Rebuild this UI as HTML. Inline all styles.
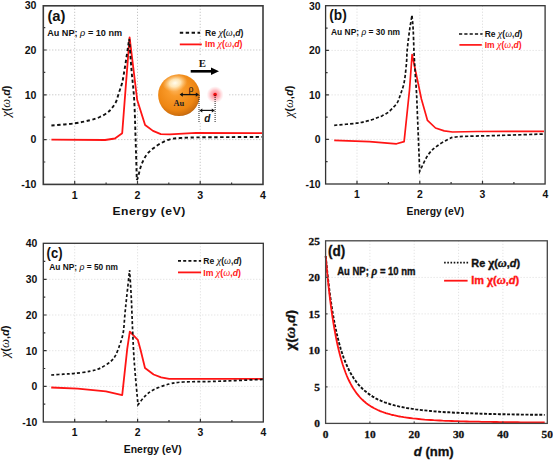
<!DOCTYPE html><html><head><meta charset="utf-8"><style>html,body{margin:0;padding:0;background:#fff;width:553px;height:460px;overflow:hidden}svg{display:block}</style></head><body>
<svg width="553" height="460" viewBox="0 0 553 460">
<defs><radialGradient id="gold" cx="0.45" cy="0.42" r="0.62" fx="0.4" fy="0.3"><stop offset="0" stop-color="#ffc070"/><stop offset="0.3" stop-color="#f99a2a"/><stop offset="0.75" stop-color="#ee8612"/><stop offset="0.92" stop-color="#d0700e"/><stop offset="1" stop-color="#a85a12"/></radialGradient><radialGradient id="hl" cx="0.5" cy="0.5" r="0.5"><stop offset="0" stop-color="#fffdf0" stop-opacity="1"/><stop offset="0.45" stop-color="#fff0c8" stop-opacity="0.85"/><stop offset="1" stop-color="#ffd090" stop-opacity="0"/></radialGradient><radialGradient id="glow"><stop offset="0" stop-color="#ff6070" stop-opacity="0.9"/><stop offset="0.55" stop-color="#ffa0a8" stop-opacity="0.65"/><stop offset="0.85" stop-color="#ffc8cc" stop-opacity="0.3"/><stop offset="1" stop-color="#ffe0e4" stop-opacity="0"/></radialGradient></defs>
<rect width="553" height="460" fill="#fff"/>
<line x1="74.7" y1="5.8" x2="74.7" y2="184.4" stroke="#b8b8b8" stroke-width="1" stroke-dasharray="1,2"/>
<line x1="137.5" y1="5.8" x2="137.5" y2="184.4" stroke="#b8b8b8" stroke-width="1" stroke-dasharray="1,2"/>
<line x1="200.2" y1="5.8" x2="200.2" y2="184.4" stroke="#b8b8b8" stroke-width="1" stroke-dasharray="1,2"/>
<line x1="43.3" y1="50.0" x2="263.0" y2="50.0" stroke="#b8b8b8" stroke-width="1" stroke-dasharray="1,2"/>
<line x1="43.3" y1="94.8" x2="263.0" y2="94.8" stroke="#b8b8b8" stroke-width="1" stroke-dasharray="1,2"/>
<line x1="43.3" y1="139.6" x2="263.0" y2="139.6" stroke="#b8b8b8" stroke-width="1" stroke-dasharray="1,2"/>
<rect x="153" y="55" width="75" height="68" fill="#fff"/>
<polyline points="51.4,139.7 105.1,140.0 114.9,138.5 122.2,133.2 125.5,90.0 129.6,37.3 137.2,100.0 145.1,125.0 153.0,130.9 160.8,134.1 169.9,134.4 196.0,132.8 262.0,133.1" fill="none" stroke="#ff1414" stroke-width="1.8" stroke-linejoin="round"/>
<path d="M51.40 125.50C55.20 125.15 67.77 124.28 74.20 123.40C80.63 122.52 85.73 121.27 90.00 120.20C94.27 119.13 96.90 118.27 99.80 117.00C102.70 115.73 105.42 114.05 107.40 112.60C109.38 111.15 110.25 110.12 111.70 108.30C113.15 106.48 114.92 104.25 116.10 101.70C117.28 99.15 117.82 96.07 118.80 93.00C119.78 89.93 121.05 87.13 122.00 83.30C122.95 79.47 123.30 77.38 124.50 70.00C125.70 62.62 128.42 44.17 129.20 39.00C129.58 44.17 130.67 59.83 131.50 70.00C132.33 80.17 133.52 88.50 134.20 100.00C134.88 111.50 135.17 125.67 135.60 139.00C136.03 152.33 136.60 173.17 136.80 180.00C137.00 179.53 137.27 179.63 138.00 177.20C138.73 174.77 139.80 169.10 141.20 165.40C142.60 161.70 144.43 157.82 146.40 155.00C148.37 152.18 150.60 150.45 153.00 148.50C155.40 146.55 157.98 144.83 160.80 143.30C163.62 141.77 166.65 140.18 169.90 139.30C173.15 138.42 175.95 138.32 180.30 138.00C184.65 137.68 187.72 137.55 196.00 137.40C204.28 137.25 219.00 137.18 230.00 137.10C241.00 137.02 256.67 136.93 262.00 136.90" fill="none" stroke="#111" stroke-width="1.9" stroke-dasharray="3.4,2.5"/>
<rect x="43.3" y="5.8" width="219.7" height="178.6" fill="none" stroke="#3a3a3a" stroke-width="1.60"/>
<path d="M74.7 184.4V181.1M137.5 184.4V181.1M200.2 184.4V181.1M106.1 184.4V182.4M168.8 184.4V182.4M231.6 184.4V182.4M43.3 50.0H46.6M43.3 94.8H46.6M43.3 139.6H46.6M43.3 27.6H45.3M43.3 72.4H45.3M43.3 117.2H45.3M43.3 162.0H45.3" stroke="#3a3a3a" stroke-width="1.2" fill="none"/>
<text x="36.5" y="9.0" font-size="10.60" font-weight="bold" font-style="normal" fill="#111" font-family='"Liberation Sans", sans-serif' text-anchor="end" >30</text>
<text x="36.5" y="53.8" font-size="10.60" font-weight="bold" font-style="normal" fill="#111" font-family='"Liberation Sans", sans-serif' text-anchor="end" >20</text>
<text x="36.5" y="98.6" font-size="10.60" font-weight="bold" font-style="normal" fill="#111" font-family='"Liberation Sans", sans-serif' text-anchor="end" >10</text>
<text x="36.5" y="143.4" font-size="10.60" font-weight="bold" font-style="normal" fill="#111" font-family='"Liberation Sans", sans-serif' text-anchor="end" >0</text>
<text x="36.5" y="188.2" font-size="10.60" font-weight="bold" font-style="normal" fill="#111" font-family='"Liberation Sans", sans-serif' text-anchor="end" >-10</text>
<text x="74.7" y="198.7" font-size="10.60" font-weight="bold" font-style="normal" fill="#111" font-family='"Liberation Sans", sans-serif' text-anchor="middle" >1</text>
<text x="137.5" y="198.7" font-size="10.60" font-weight="bold" font-style="normal" fill="#111" font-family='"Liberation Sans", sans-serif' text-anchor="middle" >2</text>
<text x="200.2" y="198.7" font-size="10.60" font-weight="bold" font-style="normal" fill="#111" font-family='"Liberation Sans", sans-serif' text-anchor="middle" >3</text>
<text x="263.0" y="198.7" font-size="10.60" font-weight="bold" font-style="normal" fill="#111" font-family='"Liberation Sans", sans-serif' text-anchor="middle" >4</text>
<text x="0" y="0" transform="translate(112.4,215.1) scale(1.1,1)" font-size="11" font-weight="bold" fill="#111" font-family='"Liberation Sans", sans-serif' textLength="66.3" lengthAdjust="spacing">Energy (eV)</text>
<text x="47.4" y="21.4" font-size="14.20" font-weight="bold" font-style="normal" fill="#111" font-family='"Liberation Sans", sans-serif' text-anchor="start" textLength="18.1" lengthAdjust="spacingAndGlyphs" >(a)</text>
<text x="47.2" y="36.3" font-size="9.10" font-weight="bold" font-style="normal" fill="#111" font-family='"Liberation Sans", sans-serif' text-anchor="start" textLength="74.9" lengthAdjust="spacingAndGlyphs" >Au NP; <tspan font-family='"Liberation Serif", serif' font-style="italic" font-weight="normal" font-size="11">ρ</tspan> = 10 nm</text>
<line x1="179.8" y1="32.7" x2="200.1" y2="32.7" stroke="#111" stroke-width="1.9" stroke-dasharray="3.4,2.5"/>
<text  x="205.0" y="36.1" font-size="8.60" fill="#111" font-family='"Liberation Sans", sans-serif' font-weight="bold" textLength="38.3" lengthAdjust="spacingAndGlyphs">Re <tspan font-family='"Liberation Serif", serif' font-style="italic" font-weight="normal" font-size="10.32">χ</tspan>(<tspan font-family='"Liberation Serif", serif' font-style="italic" font-weight="normal" font-size="9.89">ω</tspan>,<tspan font-style="italic">d</tspan>)</text>
<line x1="179.8" y1="44.4" x2="201.8" y2="44.4" stroke="#ff1414" stroke-width="1.8"/>
<text  x="205.0" y="47.4" font-size="8.60" fill="#ff1414" font-family='"Liberation Sans", sans-serif' font-weight="bold" textLength="37.5" lengthAdjust="spacingAndGlyphs">Im <tspan font-family='"Liberation Serif", serif' font-style="italic" font-weight="normal" font-size="10.32">χ</tspan>(<tspan font-family='"Liberation Serif", serif' font-style="italic" font-weight="normal" font-size="9.89">ω</tspan>,<tspan font-style="italic">d</tspan>)</text>
<text  x="0" y="0" transform="translate(9.5,101.3) rotate(-90)" text-anchor="middle" font-size="11.20" fill="#111" font-family='"Liberation Sans", sans-serif' font-weight="bold" textLength="31.4" lengthAdjust="spacingAndGlyphs"><tspan font-family='"Liberation Serif", serif' font-style="italic" font-weight="normal" font-size="13.44">χ</tspan>(<tspan font-family='"Liberation Serif", serif' font-style="italic" font-weight="normal" font-size="12.88">ω</tspan>,<tspan font-style="italic">d</tspan>)</text>
<circle cx="179" cy="95.1" r="20.9" fill="url(#gold)"/><ellipse cx="175" cy="83" rx="12.5" ry="8.5" transform="rotate(-12 175 83)" fill="url(#hl)"/>
<text x="198.8" y="67.1" font-size="10.8" font-weight="bold" font-family='"Liberation Serif", serif' fill="#111">E</text>
<path d="M190.7 71.3H212.5" stroke="#000" stroke-width="2.6"/><path d="M211 67.6L219 71.3L211 75Z" fill="#000"/>
<path d="M181.5 94.6H196" stroke="#111" stroke-width="1.3"/><path d="M179.6 94.6l3.2-2.2v4.4z M199 94.6l-3.2-2.2v4.4z" fill="#111"/>
<text x="188.6" y="91.6" font-size="10" font-family='"Liberation Serif", serif' fill="#111">ρ</text>
<text x="173.4" y="105.8" font-size="8.4" font-weight="bold" font-family='"Liberation Serif", serif' fill="#222" textLength="10.8" lengthAdjust="spacingAndGlyphs">Au</text>
<circle cx="215.1" cy="94.7" r="8.6" fill="url(#glow)"/><circle cx="215.1" cy="94.6" r="1.8" fill="#f01010"/>
<path d="M199 95V123M215.1 95V123" stroke="#222" stroke-width="1" stroke-dasharray="1,1"/>
<path d="M201.5 110.4H212.6" stroke="#111" stroke-width="1.2"/><path d="M199.3 110.4l3-2v4z M214.8 110.4l-3-2v4z" fill="#111"/>
<text x="204.3" y="121.6" font-size="10" font-weight="bold" font-style="italic" font-family='"Liberation Sans", sans-serif' fill="#111">d</text>
<line x1="357.0" y1="5.7" x2="357.0" y2="184.0" stroke="#d8d8d8" stroke-width="1" stroke-dasharray="1,2"/>
<line x1="419.8" y1="5.7" x2="419.8" y2="184.0" stroke="#d8d8d8" stroke-width="1" stroke-dasharray="1,2"/>
<line x1="482.5" y1="5.7" x2="482.5" y2="184.0" stroke="#d8d8d8" stroke-width="1" stroke-dasharray="1,2"/>
<line x1="325.6" y1="50.4" x2="545.1" y2="50.4" stroke="#d8d8d8" stroke-width="1" stroke-dasharray="1,2"/>
<line x1="325.6" y1="94.9" x2="545.1" y2="94.9" stroke="#d8d8d8" stroke-width="1" stroke-dasharray="1,2"/>
<line x1="325.6" y1="139.4" x2="545.1" y2="139.4" stroke="#d8d8d8" stroke-width="1" stroke-dasharray="1,2"/>
<polyline points="334.2,140.3 369.4,141.6 396.5,143.8 404.1,141.6 409.5,90.0 412.1,54.5 421.4,99.0 427.5,120.4 435.5,128.0 444.2,130.9 452.5,132.0 477.2,131.5 544.0,131.3" fill="none" stroke="#ff1414" stroke-width="1.7" stroke-linejoin="round"/>
<path d="M334.20 125.30C337.90 124.95 351.12 123.87 356.40 123.20C361.68 122.53 363.35 121.87 365.90 121.30C368.45 120.73 369.83 120.38 371.70 119.80C373.57 119.22 375.38 118.45 377.10 117.80C378.82 117.15 380.28 116.72 382.00 115.90C383.72 115.08 385.68 114.13 387.40 112.90C389.12 111.67 390.65 110.22 392.30 108.50C393.95 106.78 396.07 104.55 397.30 102.60C398.53 100.65 398.97 98.75 399.70 96.80C400.43 94.85 401.05 92.87 401.70 90.90C402.35 88.93 403.03 87.43 403.60 85.00C404.17 82.57 404.60 80.22 405.10 76.30C405.60 72.38 406.25 65.88 406.60 61.50C406.95 57.12 406.70 55.25 407.20 50.00C407.70 44.75 408.80 35.78 409.60 30.00C410.40 24.22 411.60 17.75 412.00 15.30C412.20 17.75 412.88 24.32 413.20 30.00C413.52 35.68 413.68 44.15 413.90 49.40C414.12 54.65 414.25 57.02 414.50 61.50C414.75 65.98 415.07 71.12 415.40 76.30C415.73 81.48 416.22 87.53 416.50 92.60C416.78 97.67 416.57 93.58 417.10 106.70C417.63 119.82 419.27 160.53 419.70 171.30C421.08 168.58 425.18 159.15 428.00 155.00C430.82 150.85 433.20 149.03 436.60 146.40C440.00 143.77 444.72 140.82 448.40 139.20C452.08 137.58 450.45 137.32 458.70 136.70C466.95 136.08 483.68 135.95 497.90 135.50C512.12 135.05 536.32 134.25 544.00 134.00" fill="none" stroke="#111" stroke-width="1.7" stroke-dasharray="3.2,2.1"/>
<rect x="325.6" y="5.7" width="219.5" height="178.3" fill="none" stroke="#333" stroke-width="1.30"/>
<path d="M357.0 184.0V180.7M419.8 184.0V180.7M482.5 184.0V180.7M388.4 184.0V182.0M451.1 184.0V182.0M513.9 184.0V182.0M325.6 50.4H328.9M325.6 94.9H328.9M325.6 139.4H328.9M325.6 28.2H327.6M325.6 72.7H327.6M325.6 117.2H327.6M325.6 161.7H327.6" stroke="#333" stroke-width="1.2" fill="none"/>
<text x="320.6" y="9.7" font-size="10.40" font-weight="bold" font-style="normal" fill="#111" font-family='"Liberation Sans", sans-serif' text-anchor="end" >30</text>
<text x="320.6" y="54.2" font-size="10.40" font-weight="bold" font-style="normal" fill="#111" font-family='"Liberation Sans", sans-serif' text-anchor="end" >20</text>
<text x="320.6" y="98.7" font-size="10.40" font-weight="bold" font-style="normal" fill="#111" font-family='"Liberation Sans", sans-serif' text-anchor="end" >10</text>
<text x="320.6" y="143.2" font-size="10.40" font-weight="bold" font-style="normal" fill="#111" font-family='"Liberation Sans", sans-serif' text-anchor="end" >0</text>
<text x="320.6" y="187.7" font-size="10.40" font-weight="bold" font-style="normal" fill="#111" font-family='"Liberation Sans", sans-serif' text-anchor="end" >-10</text>
<text x="357.0" y="198.1" font-size="10.40" font-weight="bold" font-style="normal" fill="#111" font-family='"Liberation Sans", sans-serif' text-anchor="middle" >1</text>
<text x="419.8" y="198.1" font-size="10.40" font-weight="bold" font-style="normal" fill="#111" font-family='"Liberation Sans", sans-serif' text-anchor="middle" >2</text>
<text x="482.5" y="198.1" font-size="10.40" font-weight="bold" font-style="normal" fill="#111" font-family='"Liberation Sans", sans-serif' text-anchor="middle" >3</text>
<text x="545.3" y="198.1" font-size="10.40" font-weight="bold" font-style="normal" fill="#111" font-family='"Liberation Sans", sans-serif' text-anchor="middle" >4</text>
<text x="406.6" y="214.5" font-size="10.20" font-weight="bold" font-style="normal" fill="#111" font-family='"Liberation Sans", sans-serif' text-anchor="start" textLength="57.6" lengthAdjust="spacingAndGlyphs" >Energy (eV)</text>
<text x="329.3" y="19.9" font-size="13.80" font-weight="bold" font-style="normal" fill="#111" font-family='"Liberation Sans", sans-serif' text-anchor="start" textLength="17.5" lengthAdjust="spacingAndGlyphs" >(b)</text>
<text x="331.0" y="35.4" font-size="9.30" font-weight="bold" font-style="normal" fill="#111" font-family='"Liberation Sans", sans-serif' text-anchor="start" textLength="69.1" lengthAdjust="spacingAndGlyphs" >Au NP; <tspan font-family='"Liberation Serif", serif' font-style="italic" font-weight="normal" font-size="11">ρ</tspan> = 30 nm</text>
<line x1="459" y1="34" x2="482.6" y2="34" stroke="#111" stroke-width="1.7" stroke-dasharray="3.2,2.1"/>
<text  x="484.7" y="37.0" font-size="8.60" fill="#111" font-family='"Liberation Sans", sans-serif' font-weight="bold" textLength="37.7" lengthAdjust="spacingAndGlyphs">Re <tspan font-family='"Liberation Serif", serif' font-style="italic" font-weight="normal" font-size="10.32">χ</tspan>(<tspan font-family='"Liberation Serif", serif' font-style="italic" font-weight="normal" font-size="9.89">ω</tspan>,<tspan font-style="italic">d</tspan>)</text>
<line x1="459.4" y1="44.9" x2="481.8" y2="44.9" stroke="#ff1414" stroke-width="1.7"/>
<text  x="484.7" y="47.8" font-size="8.60" fill="#ff1414" font-family='"Liberation Sans", sans-serif' font-weight="bold" textLength="36.9" lengthAdjust="spacingAndGlyphs">Im <tspan font-family='"Liberation Serif", serif' font-style="italic" font-weight="normal" font-size="10.32">χ</tspan>(<tspan font-family='"Liberation Serif", serif' font-style="italic" font-weight="normal" font-size="9.89">ω</tspan>,<tspan font-style="italic">d</tspan>)</text>
<text  x="0" y="0" transform="translate(292.6,101.6) rotate(-90)" text-anchor="middle" font-size="11.20" fill="#111" font-family='"Liberation Sans", sans-serif' font-weight="bold" textLength="31.8" lengthAdjust="spacingAndGlyphs"><tspan font-family='"Liberation Serif", serif' font-style="italic" font-weight="normal" font-size="13.44">χ</tspan>(<tspan font-family='"Liberation Serif", serif' font-style="italic" font-weight="normal" font-size="12.88">ω</tspan>,<tspan font-style="italic">d</tspan>)</text>
<line x1="74.7" y1="243.3" x2="74.7" y2="422.0" stroke="#dadada" stroke-width="1" stroke-dasharray="1,2"/>
<line x1="137.6" y1="243.3" x2="137.6" y2="422.0" stroke="#dadada" stroke-width="1" stroke-dasharray="1,2"/>
<line x1="200.4" y1="243.3" x2="200.4" y2="422.0" stroke="#dadada" stroke-width="1" stroke-dasharray="1,2"/>
<line x1="43.3" y1="279.3" x2="263.3" y2="279.3" stroke="#dadada" stroke-width="1" stroke-dasharray="1,2"/>
<line x1="43.3" y1="315.0" x2="263.3" y2="315.0" stroke="#dadada" stroke-width="1" stroke-dasharray="1,2"/>
<line x1="43.3" y1="350.7" x2="263.3" y2="350.7" stroke="#dadada" stroke-width="1" stroke-dasharray="1,2"/>
<line x1="43.3" y1="386.4" x2="263.3" y2="386.4" stroke="#dadada" stroke-width="1" stroke-dasharray="1,2"/>
<polyline points="51.2,387.5 77.7,388.6 105.9,391.4 122.2,395.1 127.2,349.2 129.8,331.7 137.8,339.8 140.6,350.0 145.0,368.0 153.6,374.5 161.1,377.3 169.2,378.9 203.6,378.9 263.0,378.9" fill="none" stroke="#ff1414" stroke-width="1.8" stroke-linejoin="round"/>
<path d="M51.20 375.00C53.25 374.87 59.60 374.47 63.50 374.20C67.40 373.93 70.12 373.90 74.60 373.40C79.08 372.90 86.08 372.10 90.40 371.20C94.72 370.30 97.13 369.62 100.50 368.00C103.87 366.38 108.07 363.63 110.60 361.50C113.13 359.37 114.22 357.87 115.70 355.20C117.18 352.53 118.45 348.37 119.50 345.50C120.55 342.63 121.32 340.58 122.00 338.00C122.68 335.42 123.10 334.10 123.60 330.00C124.10 325.90 124.50 318.77 125.00 313.40C125.50 308.03 125.83 305.02 126.60 297.80C127.37 290.58 129.10 274.72 129.60 270.10C129.88 274.72 130.80 287.82 131.30 297.80C131.80 307.78 132.10 319.22 132.60 330.00C133.10 340.78 133.40 350.03 134.30 362.50C135.20 374.97 137.38 397.75 138.00 404.80C139.17 403.37 142.40 398.72 145.00 396.20C147.60 393.68 149.57 391.73 153.60 389.70C157.63 387.67 164.23 385.28 169.20 384.00C174.17 382.72 175.98 382.43 183.40 382.00C190.82 381.57 200.43 381.83 213.70 381.40C226.97 380.97 254.78 379.73 263.00 379.40" fill="none" stroke="#111" stroke-width="1.7" stroke-dasharray="3.0,2.2"/>
<rect x="43.3" y="243.3" width="220.0" height="178.7" fill="none" stroke="#333" stroke-width="1.30"/>
<path d="M74.7 422.0V418.7M137.6 422.0V418.7M200.4 422.0V418.7M106.2 422.0V420.0M169.0 422.0V420.0M231.9 422.0V420.0M43.3 279.3H46.6M43.3 315.0H46.6M43.3 350.7H46.6M43.3 386.4H46.6M43.3 261.4H45.3M43.3 297.1H45.3M43.3 332.8H45.3M43.3 368.5H45.3M43.3 404.2H45.3" stroke="#333" stroke-width="1.2" fill="none"/>
<text x="37.4" y="247.4" font-size="10.40" font-weight="bold" font-style="normal" fill="#111" font-family='"Liberation Sans", sans-serif' text-anchor="end" >40</text>
<text x="37.4" y="283.1" font-size="10.40" font-weight="bold" font-style="normal" fill="#111" font-family='"Liberation Sans", sans-serif' text-anchor="end" >30</text>
<text x="37.4" y="318.8" font-size="10.40" font-weight="bold" font-style="normal" fill="#111" font-family='"Liberation Sans", sans-serif' text-anchor="end" >20</text>
<text x="37.4" y="354.5" font-size="10.40" font-weight="bold" font-style="normal" fill="#111" font-family='"Liberation Sans", sans-serif' text-anchor="end" >10</text>
<text x="37.4" y="390.2" font-size="10.40" font-weight="bold" font-style="normal" fill="#111" font-family='"Liberation Sans", sans-serif' text-anchor="end" >0</text>
<text x="37.4" y="425.9" font-size="10.40" font-weight="bold" font-style="normal" fill="#111" font-family='"Liberation Sans", sans-serif' text-anchor="end" >-10</text>
<text x="74.7" y="436.2" font-size="10.40" font-weight="bold" font-style="normal" fill="#111" font-family='"Liberation Sans", sans-serif' text-anchor="middle" >1</text>
<text x="137.6" y="436.2" font-size="10.40" font-weight="bold" font-style="normal" fill="#111" font-family='"Liberation Sans", sans-serif' text-anchor="middle" >2</text>
<text x="200.4" y="436.2" font-size="10.40" font-weight="bold" font-style="normal" fill="#111" font-family='"Liberation Sans", sans-serif' text-anchor="middle" >3</text>
<text x="263.3" y="436.2" font-size="10.40" font-weight="bold" font-style="normal" fill="#111" font-family='"Liberation Sans", sans-serif' text-anchor="middle" >4</text>
<text x="123.8" y="453.3" font-size="10.20" font-weight="bold" font-style="normal" fill="#111" font-family='"Liberation Sans", sans-serif' text-anchor="start" textLength="57.9" lengthAdjust="spacingAndGlyphs" >Energy (eV)</text>
<text x="46.6" y="258.0" font-size="13.80" font-weight="bold" font-style="normal" fill="#111" font-family='"Liberation Sans", sans-serif' text-anchor="start" textLength="15.9" lengthAdjust="spacingAndGlyphs" >(c)</text>
<text x="49.3" y="270.1" font-size="8.80" font-weight="bold" font-style="normal" fill="#111" font-family='"Liberation Sans", sans-serif' text-anchor="start" textLength="68.7" lengthAdjust="spacingAndGlyphs" >Au NP; <tspan font-family='"Liberation Serif", serif' font-style="italic" font-weight="normal" font-size="11">ρ</tspan> = 50 nm</text>
<line x1="178" y1="260.9" x2="201.1" y2="260.9" stroke="#111" stroke-width="1.7" stroke-dasharray="3.0,2.2"/>
<text  x="203.3" y="264.4" font-size="8.60" fill="#111" font-family='"Liberation Sans", sans-serif' font-weight="bold" textLength="38.3" lengthAdjust="spacingAndGlyphs">Re <tspan font-family='"Liberation Serif", serif' font-style="italic" font-weight="normal" font-size="10.32">χ</tspan>(<tspan font-family='"Liberation Serif", serif' font-style="italic" font-weight="normal" font-size="9.89">ω</tspan>,<tspan font-style="italic">d</tspan>)</text>
<line x1="178" y1="272.4" x2="201.1" y2="272.4" stroke="#ff1414" stroke-width="1.8"/>
<text  x="203.3" y="275.6" font-size="8.60" fill="#ff1414" font-family='"Liberation Sans", sans-serif' font-weight="bold" textLength="37.6" lengthAdjust="spacingAndGlyphs">Im <tspan font-family='"Liberation Serif", serif' font-style="italic" font-weight="normal" font-size="10.32">χ</tspan>(<tspan font-family='"Liberation Serif", serif' font-style="italic" font-weight="normal" font-size="9.89">ω</tspan>,<tspan font-style="italic">d</tspan>)</text>
<text  x="0" y="0" transform="translate(9.1,341.6) rotate(-90)" text-anchor="middle" font-size="11.20" fill="#111" font-family='"Liberation Sans", sans-serif' font-weight="bold" textLength="32.0" lengthAdjust="spacingAndGlyphs"><tspan font-family='"Liberation Serif", serif' font-style="italic" font-weight="normal" font-size="13.44">χ</tspan>(<tspan font-family='"Liberation Serif", serif' font-style="italic" font-weight="normal" font-size="12.88">ω</tspan>,<tspan font-style="italic">d</tspan>)</text>
<line x1="369.9" y1="240.8" x2="369.9" y2="423.4" stroke="#dcdcdc" stroke-width="1" stroke-dasharray="1,2"/>
<line x1="414.2" y1="240.8" x2="414.2" y2="423.4" stroke="#dcdcdc" stroke-width="1" stroke-dasharray="1,2"/>
<line x1="458.6" y1="240.8" x2="458.6" y2="423.4" stroke="#dcdcdc" stroke-width="1" stroke-dasharray="1,2"/>
<line x1="502.9" y1="240.8" x2="502.9" y2="423.4" stroke="#dcdcdc" stroke-width="1" stroke-dasharray="1,2"/>
<line x1="325.6" y1="386.9" x2="547.3" y2="386.9" stroke="#dcdcdc" stroke-width="1" stroke-dasharray="1,2"/>
<line x1="325.6" y1="350.4" x2="547.3" y2="350.4" stroke="#dcdcdc" stroke-width="1" stroke-dasharray="1,2"/>
<line x1="325.6" y1="313.9" x2="547.3" y2="313.9" stroke="#dcdcdc" stroke-width="1" stroke-dasharray="1,2"/>
<line x1="325.6" y1="277.4" x2="547.3" y2="277.4" stroke="#dcdcdc" stroke-width="1" stroke-dasharray="1,2"/>
<polyline points="325.7,256.0 326.7,266.4 327.7,275.9 328.7,284.6 329.7,292.6 330.7,300.0 331.7,306.7 332.7,312.9 333.7,318.7 334.7,324.0 335.7,328.9 336.7,333.5 337.7,337.7 338.7,341.7 339.7,345.3 340.7,348.8 341.7,352.0 342.7,355.0 343.7,357.8 344.7,360.4 345.7,362.9 346.7,365.2 347.7,367.4 348.7,369.5 349.7,371.4 350.7,373.3 351.7,375.0 352.7,376.6 353.7,378.2 354.7,379.6 355.7,381.0 356.7,382.4 357.7,383.6 358.7,384.8 359.7,385.9 360.7,387.0 361.7,388.0 362.7,389.0 363.7,389.9 364.7,390.8 365.7,391.6 366.7,392.4 367.7,393.2 368.7,393.9 369.7,394.6 370.7,395.3 371.7,395.9 372.7,396.6 373.7,397.1 374.7,397.7 375.7,398.3 376.7,398.8 377.7,399.3 378.7,399.7 379.7,400.2 380.7,400.7 381.7,401.1 382.7,401.5 383.7,401.9 384.7,402.3 385.7,402.6 386.7,403.0 387.7,403.3 388.7,403.6 389.7,404.0 390.7,404.3 391.7,404.6 392.7,404.8 393.7,405.1 394.7,405.4 395.7,405.6 396.7,405.9 397.7,406.1 398.7,406.4 399.7,406.6 400.7,406.8 403.7,407.4 406.7,408.0 409.7,408.5 412.7,408.9 415.7,409.4 418.7,409.7 421.7,410.1 424.7,410.4 427.7,410.7 430.7,411.0 433.7,411.3 436.7,411.5 439.7,411.8 442.7,412.0 445.7,412.2 448.7,412.3 451.7,412.5 454.7,412.7 457.7,412.8 460.7,413.0 463.7,413.1 466.7,413.2 469.7,413.3 472.7,413.4 475.7,413.5 478.7,413.6 481.7,413.7 484.7,413.8 487.7,413.9 490.7,414.0 493.7,414.0 496.7,414.1 499.7,414.2 502.7,414.2 505.7,414.3 508.7,414.4 511.7,414.4 514.7,414.5 517.7,414.5 520.7,414.6 523.7,414.6 526.7,414.6 529.7,414.7 532.7,414.7 535.7,414.8 538.7,414.8 541.7,414.8 544.7,414.9" fill="none" stroke="#111" stroke-width="1.9" stroke-dasharray="3,1.6"/>
<polyline points="325.7,256.2 326.7,267.6 327.7,278.0 328.7,287.6 329.7,296.3 330.7,304.4 331.7,311.8 332.7,318.6 333.7,324.9 334.7,330.7 335.7,336.1 336.7,341.1 337.7,345.7 338.7,350.0 339.7,354.0 340.7,357.8 341.7,361.2 342.7,364.5 343.7,367.5 344.7,370.3 345.7,373.0 346.7,375.5 347.7,377.8 348.7,380.0 349.7,382.0 350.7,383.9 351.7,385.7 352.7,387.5 353.7,389.1 354.7,390.6 355.7,392.0 356.7,393.4 357.7,394.6 358.7,395.8 359.7,397.0 360.7,398.1 361.7,399.1 362.7,400.0 363.7,401.0 364.7,401.8 365.7,402.7 366.7,403.5 367.7,404.2 368.7,404.9 369.7,405.6 370.7,406.2 371.7,406.9 372.7,407.4 373.7,408.0 374.7,408.5 375.7,409.0 376.7,409.5 377.7,410.0 378.7,410.4 379.7,410.9 380.7,411.3 381.7,411.7 382.7,412.0 383.7,412.4 384.7,412.7 385.7,413.1 386.7,413.4 387.7,413.7 388.7,414.0 389.7,414.2 390.7,414.5 391.7,414.8 392.7,415.0 393.7,415.2 394.7,415.5 395.7,415.7 396.7,415.9 397.7,416.1 398.7,416.3 399.7,416.5 400.7,416.7 403.7,417.2 406.7,417.6 409.7,418.0 412.7,418.4 415.7,418.7 418.7,419.0 421.7,419.3 424.7,419.6 427.7,419.8 430.7,420.0 433.7,420.2 436.7,420.3 439.7,420.5 442.7,420.7 445.7,420.8 448.7,420.9 451.7,421.0 454.7,421.1 457.7,421.2 460.7,421.3 463.7,421.4 466.7,421.5 469.7,421.6 472.7,421.6 475.7,421.7 478.7,421.7 481.7,421.8 484.7,421.8 487.7,421.9 490.7,421.9 493.7,422.0 496.7,422.0 499.7,422.1 502.7,422.1 505.7,422.1 508.7,422.2 511.7,422.2 514.7,422.2 517.7,422.2 520.7,422.3 523.7,422.3 526.7,422.3 529.7,422.3 532.7,422.3 535.7,422.4 538.7,422.4 541.7,422.4 544.7,422.4" fill="none" stroke="#ff1414" stroke-width="1.8"/>
<rect x="325.6" y="240.8" width="221.7" height="182.6" fill="none" stroke="#444" stroke-width="1.30"/>
<path d="M369.9 423.4V421.4M414.2 423.4V421.4M458.6 423.4V421.4M502.9 423.4V421.4M325.6 386.9H327.6M325.6 350.4H327.6M325.6 313.9H327.6M325.6 277.4H327.6" stroke="#444" stroke-width="1.2" fill="none"/>
<text x="320.0" y="244.9" font-size="11.40" font-weight="bold" font-style="normal" fill="#111" font-family='"Liberation Serif", serif' text-anchor="end" stroke="#111" stroke-width="0.3">25</text>
<text x="320.0" y="281.4" font-size="11.40" font-weight="bold" font-style="normal" fill="#111" font-family='"Liberation Serif", serif' text-anchor="end" stroke="#111" stroke-width="0.3">20</text>
<text x="320.0" y="317.9" font-size="11.40" font-weight="bold" font-style="normal" fill="#111" font-family='"Liberation Serif", serif' text-anchor="end" stroke="#111" stroke-width="0.3">15</text>
<text x="320.0" y="354.4" font-size="11.40" font-weight="bold" font-style="normal" fill="#111" font-family='"Liberation Serif", serif' text-anchor="end" stroke="#111" stroke-width="0.3">10</text>
<text x="320.0" y="390.9" font-size="11.40" font-weight="bold" font-style="normal" fill="#111" font-family='"Liberation Serif", serif' text-anchor="end" stroke="#111" stroke-width="0.3">5</text>
<text x="320.0" y="427.4" font-size="11.40" font-weight="bold" font-style="normal" fill="#111" font-family='"Liberation Serif", serif' text-anchor="end" stroke="#111" stroke-width="0.3">0</text>
<text x="325.5" y="437.8" font-size="11.40" font-weight="bold" font-style="normal" fill="#111" font-family='"Liberation Serif", serif' text-anchor="middle" stroke="#111" stroke-width="0.3">0</text>
<text x="369.9" y="437.8" font-size="11.40" font-weight="bold" font-style="normal" fill="#111" font-family='"Liberation Serif", serif' text-anchor="middle" stroke="#111" stroke-width="0.3">10</text>
<text x="414.2" y="437.8" font-size="11.40" font-weight="bold" font-style="normal" fill="#111" font-family='"Liberation Serif", serif' text-anchor="middle" stroke="#111" stroke-width="0.3">20</text>
<text x="458.6" y="437.8" font-size="11.40" font-weight="bold" font-style="normal" fill="#111" font-family='"Liberation Serif", serif' text-anchor="middle" stroke="#111" stroke-width="0.3">30</text>
<text x="502.9" y="437.8" font-size="11.40" font-weight="bold" font-style="normal" fill="#111" font-family='"Liberation Serif", serif' text-anchor="middle" stroke="#111" stroke-width="0.3">40</text>
<text x="547.3" y="437.8" font-size="11.40" font-weight="bold" font-style="normal" fill="#111" font-family='"Liberation Serif", serif' text-anchor="middle" stroke="#111" stroke-width="0.3">50</text>
<text x="413.8" y="455.9" font-size="13" font-weight="bold" font-family='"Liberation Sans", sans-serif' fill="#111" stroke="#111" stroke-width="0.3" textLength="39.9" lengthAdjust="spacingAndGlyphs"><tspan font-style="italic">d</tspan> (nm)</text>
<text x="328.1" y="255.6" font-size="14.80" font-weight="bold" font-style="normal" fill="#111" font-family='"Liberation Sans", sans-serif' text-anchor="start" textLength="17.3" lengthAdjust="spacingAndGlyphs" stroke="#111" stroke-width="0.3">(d)</text>
<text x="337.2" y="274.6" font-size="10.60" font-weight="bold" font-style="normal" fill="#111" font-family='"Liberation Sans", sans-serif' text-anchor="start" textLength="78.3" lengthAdjust="spacingAndGlyphs" stroke="#111" stroke-width="0.35">Au NP; <tspan font-family='"Liberation Serif", serif' font-style="italic" font-size="12.5">ρ</tspan> = 10 nm</text>
<line x1="444.1" y1="262.7" x2="469.5" y2="262.7" stroke="#111" stroke-width="1.8" stroke-dasharray="1.6,1.6"/>
<text stroke="#111" stroke-width="0.35" x="471.3" y="266.5" font-size="10.50" fill="#111" font-family='"Liberation Sans", sans-serif' font-weight="bold" textLength="48.8" lengthAdjust="spacingAndGlyphs">Re <tspan font-family='"Liberation Serif", serif' font-style="normal" font-weight="bold" font-size="12.60">χ</tspan>(<tspan font-family='"Liberation Serif", serif' font-style="italic" font-weight="bold" font-size="12.07">ω</tspan>,<tspan font-style="italic">d</tspan>)</text>
<line x1="444.1" y1="280.7" x2="467.6" y2="280.7" stroke="#ff1414" stroke-width="1.8"/>
<text stroke="#ff1414" stroke-width="0.35" x="471.3" y="284.0" font-size="10.50" fill="#ff1414" font-family='"Liberation Sans", sans-serif' font-weight="bold" textLength="47.9" lengthAdjust="spacingAndGlyphs">Im <tspan font-family='"Liberation Serif", serif' font-style="normal" font-weight="bold" font-size="12.60">χ</tspan>(<tspan font-family='"Liberation Serif", serif' font-style="italic" font-weight="bold" font-size="12.07">ω</tspan>,<tspan font-style="italic">d</tspan>)</text>
<text stroke="#111" stroke-width="0.3" x="0" y="0" transform="translate(295.3,330.2) rotate(-90)" text-anchor="middle" font-size="13.00" fill="#111" font-family='"Liberation Sans", sans-serif' font-weight="bold" textLength="40.4" lengthAdjust="spacingAndGlyphs"><tspan font-family='"Liberation Serif", serif' font-style="normal" font-weight="bold" font-size="15.60">χ</tspan>(<tspan font-family='"Liberation Serif", serif' font-style="italic" font-weight="bold" font-size="14.95">ω</tspan>,<tspan font-style="italic">d</tspan>)</text>
</svg></body></html>
